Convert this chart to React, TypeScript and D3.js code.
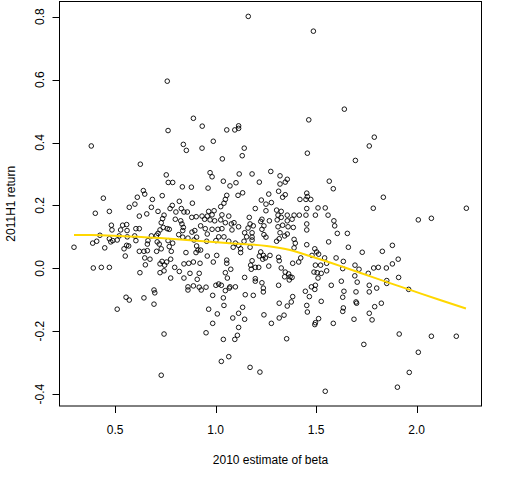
import React, { useEffect } from "react";
import * as d3 from "d3";

// [2010 beta estimate, 2011H1 return]
const stockPoints: [number, number][] = [
  [0.763,0.438],[0.381,0.389],[0.839,0.394],[0.854,0.375],[0.932,0.382],[0.625,0.331],[0.754,0.297],[0.764,0.273],[0.786,0.273],[0.834,0.259],[0.879,0.258],[0.640,0.247],[0.647,0.236],[0.441,0.223],[0.610,0.226],[0.685,0.219],[0.734,0.231],[0.598,0.204],[0.570,0.194],[0.680,0.194],[0.784,0.200],[0.819,0.213],[0.884,0.207],[0.773,0.190],[0.401,0.175],[0.471,0.181],[0.713,0.181],[0.657,0.173],[0.620,0.166],[0.743,0.169],[0.736,0.158],[0.802,0.179],[0.829,0.190],[0.842,0.179],[0.859,0.179],[0.903,0.164],[0.881,0.162],[0.932,0.166],[0.799,0.156],[0.826,0.151],[0.832,0.141],[0.729,0.145],[0.481,0.137],[0.537,0.137],[0.557,0.139],[0.527,0.122],[0.484,0.122],[0.559,0.120],[0.603,0.126],[0.620,0.126],[0.739,0.130],[0.759,0.126],[0.769,0.124],[0.839,0.130],[0.836,0.120],[0.723,0.122],[0.713,0.111],[0.925,0.135],[0.882,0.115],[0.896,0.120],[0.424,0.105],[0.520,0.103],[0.560,0.100],[0.597,0.103],[0.680,0.103],[0.706,0.105],[0.816,0.107],[0.836,0.099],[0.862,0.096],[0.905,0.099],[0.471,0.094],[0.488,0.088],[0.510,0.090],[0.478,0.084],[0.388,0.080],[0.408,0.086],[0.603,0.088],[0.663,0.088],[0.660,0.077],[0.709,0.084],[0.719,0.077],[0.763,0.088],[0.786,0.080],[0.892,0.090],[0.295,0.067],[0.448,0.065],[0.544,0.062],[0.567,0.071],[0.557,0.073],[0.620,0.054],[0.643,0.054],[0.660,0.056],[0.706,0.054],[0.729,0.062],[0.769,0.069],[0.779,0.054],[0.852,0.050],[0.905,0.071],[0.912,0.058],[0.902,0.050],[0.925,0.058],[0.550,0.039],[0.647,0.033],[0.673,0.029],[0.733,0.022],[0.756,0.020],[0.776,0.029],[0.650,0.011],[0.723,0.014],[0.746,0.010],[0.796,0.003],[0.842,0.014],[0.866,0.016],[0.889,0.020],[0.922,0.016],[0.391,0.001],[0.431,0.003],[0.471,0.003],[0.623,-0.014],[0.723,-0.014],[0.743,-0.008],[0.819,-0.010],[0.872,-0.016],[0.918,-0.016],
  [1.055,0.440],[1.095,0.440],[0.988,0.404],[1.142,0.382],[1.132,0.358],[1.033,0.348],[1.456,0.366],[0.972,0.304],[0.982,0.291],[1.117,0.300],[1.181,0.300],[1.274,0.308],[1.320,0.294],[1.356,0.283],[1.346,0.274],[1.038,0.277],[1.071,0.262],[1.101,0.272],[1.217,0.274],[1.320,0.268],[1.565,0.277],[1.585,0.253],[0.962,0.255],[1.134,0.240],[1.111,0.232],[1.055,0.232],[1.264,0.236],[1.313,0.245],[1.346,0.234],[1.333,0.226],[1.453,0.239],[1.456,0.228],[1.419,0.219],[1.449,0.219],[1.473,0.219],[1.048,0.219],[1.041,0.207],[1.227,0.217],[1.250,0.204],[1.277,0.209],[1.025,0.196],[1.197,0.190],[1.250,0.183],[1.303,0.185],[1.326,0.181],[1.453,0.190],[1.509,0.192],[1.545,0.192],[0.965,0.181],[0.992,0.183],[0.982,0.170],[0.958,0.166],[1.031,0.170],[1.065,0.166],[1.167,0.162],[1.230,0.156],[1.267,0.151],[1.310,0.169],[1.326,0.162],[1.356,0.169],[1.390,0.169],[1.416,0.169],[1.449,0.169],[1.496,0.169],[1.559,0.169],[1.306,0.154],[1.356,0.151],[1.380,0.156],[0.945,0.156],[0.972,0.154],[0.995,0.151],[1.025,0.154],[1.048,0.145],[1.078,0.141],[1.091,0.145],[1.114,0.132],[1.171,0.141],[1.161,0.128],[1.187,0.135],[1.224,0.149],[1.240,0.135],[1.230,0.124],[1.310,0.132],[1.333,0.137],[1.360,0.132],[1.386,0.130],[1.453,0.141],[1.453,0.122],[1.588,0.151],[1.592,0.135],[0.948,0.126],[0.982,0.124],[1.011,0.124],[1.031,0.126],[1.081,0.122],[0.958,0.109],[1.015,0.100],[1.041,0.100],[1.144,0.113],[1.181,0.113],[1.154,0.100],[1.181,0.099],[1.240,0.107],[1.320,0.113],[1.343,0.103],[1.356,0.109],[1.250,0.099],[1.605,0.111],[0.955,0.086],[1.001,0.088],[1.065,0.086],[1.098,0.080],[1.114,0.073],[1.124,0.062],[1.087,0.067],[1.141,0.086],[1.181,0.090],[1.303,0.086],[1.316,0.094],[1.390,0.092],[1.396,0.080],[1.562,0.084],[1.453,0.075],[1.171,0.067],[1.390,0.065],[1.493,0.062],[1.502,0.052],[0.958,0.039],[1.005,0.041],[1.124,0.050],[1.224,0.052],[1.237,0.041],[1.217,0.039],[1.247,0.033],[1.234,0.029],[1.270,0.041],[1.313,0.035],[1.423,0.033],[1.479,0.041],[1.512,0.045],[1.542,0.033],[1.552,0.016],[1.599,0.033],[1.055,0.026],[1.055,0.016],[0.988,0.020],[1.181,0.024],[1.316,0.024],[1.383,0.016],[1.413,0.020],[1.174,0.010],[1.197,0.003],[1.214,0.003],[1.177,-0.003],[1.264,0.007],[1.326,0.001],[1.496,0.010],[1.522,0.010],[1.635,0.022],[1.632,-0.001],[1.075,-0.003],[1.048,-0.014],[1.346,-0.012],[1.489,-0.012],[1.505,-0.014],[1.552,-0.008],
  [1.789,0.417],[1.764,0.389],[1.695,0.343],[1.834,0.226],[1.784,0.191],[2.247,0.191],[2.008,0.154],[2.073,0.159],[1.655,0.111],[1.660,0.067],[1.729,0.051],[1.829,0.054],[1.879,0.073],[1.908,0.029],[1.879,0.014],[1.849,0.001],[1.809,0.003],[1.786,0.001],[1.693,0.010],[1.713,-0.003],[1.759,-0.016],
  [0.776,-0.031],[0.842,-0.031],[0.908,-0.035],[0.693,-0.069],[0.697,-0.078],[0.862,-0.059],[0.889,-0.056],[0.862,-0.069],[0.918,-0.060],[0.928,-0.069],[0.554,-0.092],[0.570,-0.101],[0.643,-0.094],[0.693,-0.114],[0.510,-0.130],[0.743,-0.209],[0.729,-0.340],
  [1.058,-0.031],[1.144,-0.029],[1.197,-0.033],[1.197,-0.041],[1.230,-0.046],[1.343,-0.027],[1.363,-0.018],[1.370,-0.027],[1.380,-0.029],[1.366,-0.037],[1.509,-0.031],[1.525,-0.016],[0.952,-0.060],[1.001,-0.054],[1.015,-0.050],[1.028,-0.054],[1.048,-0.071],[1.068,-0.063],[1.071,-0.059],[1.098,-0.059],[1.237,-0.063],[1.237,-0.075],[1.147,-0.084],[1.187,-0.086],[1.313,-0.054],[0.985,-0.086],[1.038,-0.094],[1.041,-0.118],[0.965,-0.130],[1.008,-0.145],[1.134,-0.124],[1.114,-0.143],[1.085,-0.158],[1.144,-0.162],[1.240,-0.148],[1.383,-0.090],[1.376,-0.107],[1.356,-0.120],[1.316,-0.111],[1.446,-0.073],[1.466,-0.090],[1.476,-0.059],[1.496,-0.054],[1.493,-0.067],[1.575,-0.054],[1.625,-0.041],[1.638,-0.073],[1.632,-0.092],[1.525,-0.105],[1.453,-0.118],[1.456,-0.139],[1.635,-0.126],[1.632,-0.137],[1.340,-0.149],[1.316,-0.158],[1.277,-0.175],[1.512,-0.160],[1.496,-0.173],[1.493,-0.179],[1.585,-0.175],[0.985,-0.175],[0.952,-0.205],[1.114,-0.188],[1.108,-0.213],[1.095,-0.226],[1.038,-0.226],[1.353,-0.224],[1.028,-0.296],[1.065,-0.281],[1.171,-0.315],[1.220,-0.330],[1.545,-0.391],
  [1.692,-0.024],[1.704,-0.044],[1.764,-0.054],[1.851,-0.039],[1.851,-0.048],[1.910,-0.029],[1.801,-0.063],[1.960,-0.067],[1.698,-0.075],[1.764,-0.075],[1.698,-0.107],[1.701,-0.111],[1.824,-0.111],[1.791,-0.122],[1.764,-0.143],[1.688,-0.162],[1.778,-0.164],[1.913,-0.209],[2.073,-0.216],[2.197,-0.216],[1.737,-0.242],[2.008,-0.267],[1.963,-0.331],[1.904,-0.378],
  [1.162,0.801],[0.759,0.595],[0.889,0.477],[0.933,0.452],[1.114,0.453],[1.114,0.445],[1.486,0.754],[1.640,0.506],[1.463,0.472],
];

const lowessBeta = [0.295, 0.38, 0.524, 0.723, 0.922, 1.071, 1.254, 1.37, 1.469, 1.635, 1.784, 1.96, 2.116, 2.245];
const lowessReturn = [0.106, 0.106, 0.103, 0.096, 0.087, 0.08, 0.071, 0.058, 0.039, 0.004, -0.029, -0.067, -0.101, -0.128];

const xTicks = [0.5, 1.0, 1.5, 2.0];
const yTicks = [-0.4, -0.2, 0.0, 0.2, 0.4, 0.6, 0.8];
const xTitle = "2010 estimate of beta";
const yTitle = "2011H1 return";

const W = 512, H = 480;
const L = 59.5, R = 481.5, T = 1.5, B = 406;
const FONT = "'Liberation Sans', Arial, sans-serif";

export default function App() {
  useEffect(() => {
    document.body.style.margin = "0";
  }, []);

  const x = d3.scaleLinear().domain([(L - 14.7) / 201, (R - 14.7) / 201]).range([L, R]);
  const y = d3.scaleLinear().domain([(268.3 - B) / 314.5, (268.3 - T) / 314.5]).range([B, T]);

  const lowessPts: [number, number][] = lowessBeta.map((b, i) => [b, lowessReturn[i]]);
  const line = d3
    .line<[number, number]>()
    .x((d) => x(d[0]))
    .y((d) => y(d[1]))
    .curve(d3.curveMonotoneX);

  return (
    <svg width={W} height={H} style={{ display: "block", background: "#fff" }} fontFamily={FONT}>
      <rect x={0} y={0} width={W} height={H} fill="#fff" />
      {stockPoints.map((p, i) => (
        <circle key={i} cx={x(p[0])} cy={y(p[1])} r={2.3} fill="none" stroke="#000" strokeWidth={0.9} />
      ))}
      <path d={line(lowessPts) || ""} fill="none" stroke="#FFD700" strokeWidth={2} />
      <rect x={L} y={T} width={R - L} height={B - T} fill="none" stroke="#000" strokeWidth={1} />
      {xTicks.map((t) => (
        <g key={"x" + t}>
          <line x1={Math.round(x(t)) + 0.5} x2={Math.round(x(t)) + 0.5} y1={B} y2={B + 7} stroke="#000" />
          <text x={x(t)} y={434} textAnchor="middle" fontSize={12} fill="#000">
            {t.toFixed(1)}
          </text>
        </g>
      ))}
      {yTicks.map((t) => (
        <g key={"y" + t}>
          <line x1={L - 7} x2={L} y1={Math.round(y(t)) + 0.5} y2={Math.round(y(t)) + 0.5} stroke="#000" />
          <text
            transform={`translate(43.5,${y(t)}) rotate(-90)`}
            textAnchor="middle"
            fontSize={12}
            fill="#000"
          >
            {t.toFixed(1)}
          </text>
        </g>
      ))}
      <text x={(L + R) / 2} y={463.5} textAnchor="middle" fontSize={12} fill="#000">
        {xTitle}
      </text>
      <text transform={`translate(15,${(T + B) / 2}) rotate(-90)`} textAnchor="middle" fontSize={12} fill="#000">
        {yTitle}
      </text>
    </svg>
  );
}
